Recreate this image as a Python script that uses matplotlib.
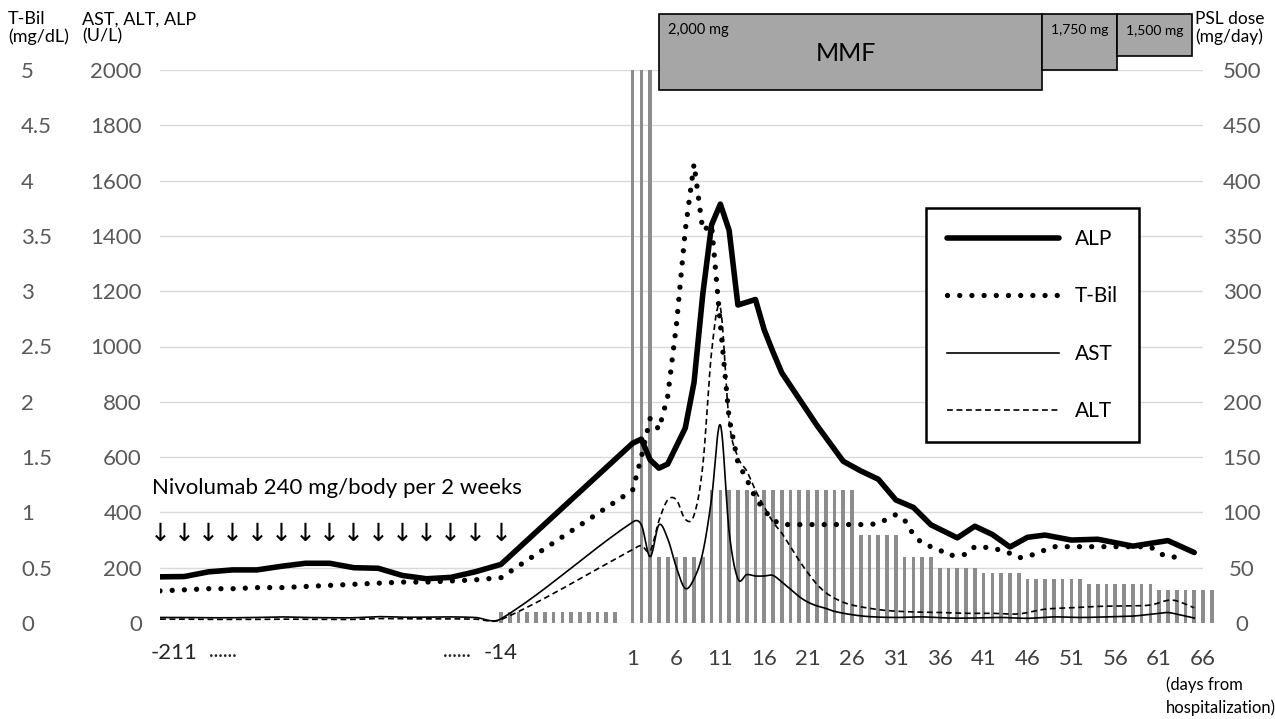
import numpy as np
import matplotlib
matplotlib.use("Agg")
import matplotlib.pyplot as plt
from matplotlib.patches import Rectangle
from matplotlib.ticker import FuncFormatter

plt.rcParams['font.family'] = ['Lato', 'DejaVu Sans']

# ---------------- data ----------------
pre_days = [-211, -197, -183, -169, -155, -141, -127, -113, -99, -85, -71, -57, -43, -29, -14]
pre_alp = [167, 168, 185, 192, 192, 205, 216, 216, 200, 198, 172, 160, 165, 185, 212]
pre_tbil = [0.29, 0.30, 0.31, 0.31, 0.32, 0.32, 0.33, 0.34, 0.35, 0.36, 0.37, 0.37, 0.38, 0.39, 0.41]
pre_ast = [20, 20, 19, 19, 20, 22, 20, 19, 19, 23, 21, 21, 22, 20, 15]
pre_alt = [14, 14, 13, 13, 13, 14, 13, 13, 13, 16, 15, 15, 15, 14, 12]
nivolumab_days = [-211, -197, -183, -169, -155, -141, -127, -113, -99, -85, -71, -57, -43, -29, -14]

alp_days = [1, 2, 3, 4, 5, 6, 7, 8, 9, 10, 11, 12, 13, 15, 16, 17, 18, 22, 25, 27, 29, 31, 33, 35,
            38, 40, 42, 44, 46, 48, 51, 54, 58, 62, 65]
alp_vals = [650, 665, 590, 560, 575, 640, 705, 870, 1190, 1440, 1515, 1420, 1150, 1170, 1060, 980, 905,
            715, 585, 550, 520, 445, 418, 355, 308, 350, 320, 275, 310, 318, 300, 303, 278, 298, 255]

tbil_days = [1, 2, 3, 4, 5, 6, 7, 8, 9, 10, 11, 12, 13, 14, 15, 16, 17, 18, 28, 29, 31, 32, 33, 34,
             36, 37, 39, 40, 42, 44, 45, 46, 48, 49, 60, 61, 62, 64]
tbil_vals = [1.2, 1.5, 1.85, 1.75, 2.05, 2.7, 3.55, 4.15, 3.55, 3.6, 2.7, 1.85, 1.45, 1.3, 1.13, 1.02,
             0.93, 0.89, 0.89, 0.9, 0.98, 0.93, 0.8, 0.72, 0.66, 0.61, 0.62, 0.69, 0.68, 0.63, 0.59,
             0.6, 0.66, 0.69, 0.69, 0.63, 0.6, 0.59]

ast_days = [1, 2, 3, 4, 5, 6, 7, 8, 9, 10, 11, 12, 13, 14, 15, 16, 17, 18, 19, 20, 21, 22, 23, 24,
            26, 28, 31, 34, 37, 40, 43, 46, 49, 52, 55, 58, 61, 62, 63, 65]
ast_vals = [365, 355, 240, 355, 305, 200, 125, 160, 255, 450, 716, 330, 160, 175, 170, 170, 172, 148,
            122, 95, 75, 62, 53, 42, 30, 23, 20, 22, 18, 18, 20, 17, 22, 20, 22, 25, 35, 38, 32, 18]

alt_days = [1, 2, 3, 4, 5, 6, 7, 8, 9, 10, 11, 12, 13, 14, 15, 16, 17, 18, 19, 20, 21, 22, 23, 24,
            25, 26, 28, 30, 33, 36, 39, 42, 45, 48, 51, 54, 57, 60, 62, 63, 65]
alt_vals = [265, 280, 260, 370, 445, 445, 375, 390, 570, 980, 1140, 730, 600, 550, 480, 420, 365, 325,
            275, 225, 180, 140, 110, 90, 75, 65, 53, 45, 40, 38, 35, 35, 33, 50, 55, 60, 62, 65, 82,
            80, 55]

# prednisolone (mg/day)
psl_days = list(range(-14, 0)) + list(range(1, 68))
psl_dose = ([10] * 14 + [500] * 3 + [60] * 6 + [120] * 17 + [80] * 5 + [60] * 4 + [50] * 5
            + [45] * 5 + [40] * 7 + [35] * 8 + [30] * 7)

# MMF periods
mmf_start = [4, 47.6, 56.2]
mmf_end = [47.6, 56.2, 64.7]
mmf_labels = ['2,000 mg', '1,750 mg', '1,500 mg']

left_ticks = [0, 200, 400, 600, 800, 1000, 1200, 1400, 1600, 1800, 2000]
tbil_ticks = [0, 0.5, 1, 1.5, 2, 2.5, 3, 3.5, 4, 4.5, 5]
right_ticks = [0, 50, 100, 150, 200, 250, 300, 350, 400, 450, 500]
x_tick_days = [1, 6, 11, 16, 21, 26, 31, 36, 41, 46, 51, 56, 61, 66]

COMPRESS = 5.07


def pos(d):
    d = np.asarray(d, dtype=float)
    return np.where(d >= -14, d, -14 + (d + 14) / COMPRESS)


def smooth(x, y, n=24):
    x = np.asarray(x, float)
    y = np.asarray(y, float)
    m = np.zeros_like(y)
    m[0] = (y[1] - y[0]) / (x[1] - x[0])
    m[-1] = (y[-1] - y[-2]) / (x[-1] - x[-2])
    m[1:-1] = (y[2:] - y[:-2]) / (x[2:] - x[:-2])
    xs, ys = [x[0]], [y[0]]
    for i in range(len(x) - 1):
        h = x[i + 1] - x[i]
        t = np.linspace(0, 1, n)[1:]
        h00 = 2 * t**3 - 3 * t**2 + 1
        h10 = t**3 - 2 * t**2 + t
        h01 = -2 * t**3 + 3 * t**2
        h11 = t**3 - t**2
        xs.extend(x[i] + t * h)
        ys.extend(h00 * y[i] + h10 * h * m[i] + h01 * y[i + 1] + h11 * h * m[i + 1])
    return np.array(xs), np.array(ys)


W, H = 1275, 719
fig = plt.figure(figsize=(W / 100, H / 100), dpi=100)
L, R, T, B = 160, 1203, 70, 623
rect = [L / W, 1 - B / H, (R - L) / W, (B - T) / H]

ax_r = fig.add_axes(rect)               # PSL bars (right axis)
ax = fig.add_axes(rect, sharex=ax_r)    # AST/ALT/ALP
ax_t = fig.add_axes(rect, sharex=ax_r)  # T-Bil
for a in (ax, ax_t):
    a.patch.set_visible(False)
ax_r.set_zorder(1)
ax.set_zorder(2)
ax_t.set_zorder(3)

xlo, xhi = float(pos(-211)), 66
for a in (ax_r, ax, ax_t):
    a.set_xlim(xlo, xhi)
    for s in a.spines.values():
        s.set_visible(False)

ax.set_ylim(0, 2000)
ax_t.set_ylim(0, 5)
ax_r.set_ylim(0, 500)

tick_col = '#595959'
# bars
ax_r.bar(pos(psl_days), psl_dose, width=0.42, color='#8c8c8c', zorder=2, clip_on=False)
ax_r.yaxis.tick_right()
ax_r.set_yticks(right_ticks)
ax_r.tick_params(axis='y', length=0, pad=28, labelsize=16, labelcolor=tick_col)
for lab in ax_r.get_yticklabels():
    lab.set_horizontalalignment('center')
ax_r.grid(axis='y', color='#d9d9d9', lw=1.0, zorder=0)
ax_r.set_axisbelow(True)
ax_r.tick_params(axis='x', bottom=False, labelbottom=False)

# left axis
ax.set_yticks(left_ticks)
ax.tick_params(axis='y', length=0, pad=13, labelsize=16, labelcolor=tick_col)
ax.tick_params(axis='x', length=0, pad=19, labelsize=16, labelcolor='#404040')
ax.set_xticks(x_tick_days)
ax.set_xticklabels([str(d) for d in x_tick_days])
ax.annotate('-211', xy=(xlo, 0), xycoords=('data', 'axes fraction'), xytext=(14 * 0.72, -19 * 0.72 - 1),
            textcoords='offset points', ha='center', va='top', fontsize=16, color='#262626')
ax.annotate('-14', xy=(-14, 0), xycoords=('data', 'axes fraction'), xytext=(0, -19 * 0.72 - 1),
            textcoords='offset points', ha='center', va='top', fontsize=16, color='#262626')
fig.text(209 / W, 1 - 656 / H, '······', fontsize=13, color='#262626', ha='left', va='center')
fig.text(443 / W, 1 - 656 / H, '······', fontsize=13, color='#262626', ha='left', va='center')

# T-Bil axis labels (far left)
ax_t.yaxis.tick_left()
ax_t.set_yticks(tbil_ticks)
ax_t.yaxis.set_major_formatter(FuncFormatter(lambda v, p: f'{v:g}'))
ax_t.tick_params(axis='y', length=0, pad=100, labelsize=16, labelcolor=tick_col)
for lab in ax_t.get_yticklabels():
    lab.set_horizontalalignment('left')
ax_t.tick_params(axis='x', bottom=False, labelbottom=False)

# lines
alp_x = pos(pre_days + alp_days)
l_alp, = ax.plot(alp_x, pre_alp + alp_vals, color='black', lw=4.0, solid_joinstyle='round',
                 solid_capstyle='round', label='ALP', zorder=5)
tb_x = pos(pre_days + tbil_days)
l_tb, = ax_t.plot(tb_x, pre_tbil + tbil_vals, color='black', lw=3.8, linestyle=(0, (0.01, 2.3)),
                  dash_capstyle='round', label='T-Bil', zorder=5)
sx, sy = smooth(pos(pre_days + ast_days), pre_ast + ast_vals)
l_ast, = ax.plot(sx, sy, color='black', lw=1.2, label='AST', zorder=4)
sx, sy = smooth(pos(pre_days + alt_days), pre_alt + alt_vals)
l_alt, = ax.plot(sx, sy, color='black', lw=1.2, linestyle=(0, (3.5, 2.2)), label='ALT', zorder=4)

# Nivolumab arrows
for d in nivolumab_days:
    ax.text(float(pos(d)), 323, '↓', ha='center', va='center', fontsize=18,
            family='DejaVu Sans', color='black')
fig.text(152 / W, 1 - 488 / H, 'Nivolumab 240 mg/body per 2 weeks', fontsize=16,
         ha='left', va='center', color='black')

# MMF boxes
box_bottom = [482, 500, 512.5]
for s, e, lab, bb in zip(mmf_start, mmf_end, mmf_labels, box_bottom):
    ax_r.add_patch(Rectangle((s, bb), e - s, 551 - bb, facecolor='#a6a6a6', edgecolor='black',
                             lw=1.2, clip_on=False, zorder=6))
ax_r.text(mmf_start[0] + 1.0, 536, mmf_labels[0], fontsize=10.5, ha='left', va='center', zorder=7)
ax_r.text((mmf_start[1] + mmf_end[1]) / 2, 536, mmf_labels[1], fontsize=10, ha='center', va='center', zorder=7)
ax_r.text((mmf_start[2] + mmf_end[2]) / 2, 535, mmf_labels[2], fontsize=10, ha='center', va='center', zorder=7)
ax_r.text(25.3, 515, 'MMF', fontsize=18, ha='center', va='center', zorder=7)

# header texts
fig.text(8 / W, 1 - 28 / H, 'T-Bil\n(mg/dL)', fontsize=13, ha='left', va='center', linespacing=1.1)
fig.text(82 / W, 1 - 28 / H, 'AST, ALT, ALP\n(U/L)', fontsize=13, ha='left', va='center', linespacing=1.1)
fig.text(1195 / W, 1 - 28 / H, 'PSL dose\n(mg/day)', fontsize=12.5, ha='left', va='center', linespacing=1.1)
fig.text(1166 / W, 1 - 696 / H, '(days from\nhospitalization)', fontsize=12, ha='left', va='center',
         linespacing=1.45)

# legend
leg = ax_t.legend([l_alp, l_tb, l_ast, l_alt], ['ALP', 'T-Bil', 'AST', 'ALT'], loc='upper left',
                  bbox_to_anchor=(926 / W, 1 - 208 / H), bbox_transform=fig.transFigure,
                  borderaxespad=0, fontsize=15, frameon=True, fancybox=False, edgecolor='black',
                  framealpha=1, borderpad=1.0, handlelength=5.4, handletextpad=0.75, labelspacing=1.8)
leg.get_frame().set_linewidth(1.8)

fig.savefig('out.png', dpi=100)
